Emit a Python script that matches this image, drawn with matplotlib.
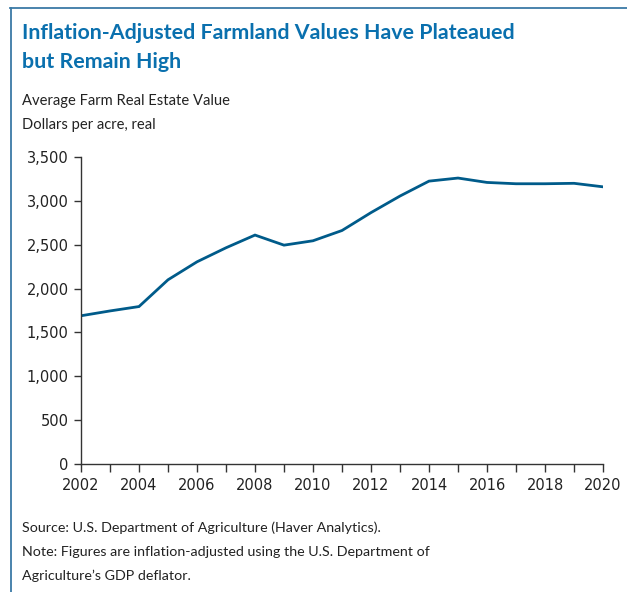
import numpy as np
import matplotlib.pyplot as plt
from matplotlib.lines import Line2D

# data
years = list(range(2002, 2021))
values = [1690, 1745, 1795, 2100, 2305, 2465, 2610, 2495, 2545, 2662,
          2866, 3055, 3225, 3260, 3210, 3195, 3195, 3200, 3160]
xtick_years = list(range(2002, 2021, 2))
ytick_vals = [0, 500, 1000, 1500, 2000, 2500, 3000, 3500]

W, H = 627, 592
fig = plt.figure(figsize=(W / 100, H / 100), dpi=100)

txt = '#222222'
blue_title = '#0a70ae'
line_col = '#005b8a'
frame_col = '#3a7aa6'

# axes in pixel coords
left, right, top, bottom = 81, 603, 157, 464
ax = fig.add_axes([left / W, 1 - bottom / H, (right - left) / W, (bottom - top) / H])
ax.plot(years, values, color=line_col, lw=2.0, solid_joinstyle='miter')
ax.set_xlim(2002, 2020)
ax.set_ylim(0, 3500)
ax.set_xticks(xtick_years)
ax.set_xticks(years, minor=True)
ax.set_yticks(ytick_vals)
ax.set_yticklabels([f'{v:,}' for v in ytick_vals])
for s in ['top', 'right']:
    ax.spines[s].set_visible(False)
for s in ['left', 'bottom']:
    ax.spines[s].set_color('#333333')
    ax.spines[s].set_linewidth(1.0)
ax.tick_params(axis='x', which='both', direction='out', length=6, width=1, color='#333333',
               labelsize=10.5, labelcolor=txt, pad=4)
ax.tick_params(axis='y', direction='out', length=5, width=1, color='#333333',
               labelsize=10.5, labelcolor=txt, pad=4)

# frame lines (left and top)
fig.add_artist(Line2D([10.5 / W, 10.5 / W], [0, 1 - 8 / H], transform=fig.transFigure,
                      color=frame_col, lw=1.3))
fig.add_artist(Line2D([10 / W, 1], [1 - 8 / H, 1 - 8 / H], transform=fig.transFigure,
                      color=frame_col, lw=1.3))

ff = 'Lato'
fig.text(22 / W, 1 - 33 / H, 'Inflation-Adjusted Farmland Values Have Plateaued',
         fontsize=15.4, fontweight='bold', color=blue_title, family=ff, va='center')
fig.text(22 / W, 1 - 62 / H, 'but Remain High',
         fontsize=15.4, fontweight='bold', color=blue_title, family=ff, va='center')
fig.text(22 / W, 1 - 101 / H, 'Average Farm Real Estate Value',
         fontsize=10.6, color=txt, family=ff, va='center')
fig.text(22 / W, 1 - 125 / H, 'Dollars per acre, real',
         fontsize=10.6, color=txt, family=ff, va='center')

fig.text(22 / W, 1 - 528 / H, 'Source: U.S. Department of Agriculture (Haver Analytics).',
         fontsize=10.3, color=txt, family=ff, va='center')
fig.text(22 / W, 1 - 552 / H, 'Note: Figures are inflation-adjusted using the U.S. Department of',
         fontsize=10.3, color=txt, family=ff, va='center')
fig.text(22 / W, 1 - 576 / H, 'Agriculture\u2019s GDP deflator.',
         fontsize=10.3, color=txt, family=ff, va='center')

fig.savefig('out.png', dpi=100)
